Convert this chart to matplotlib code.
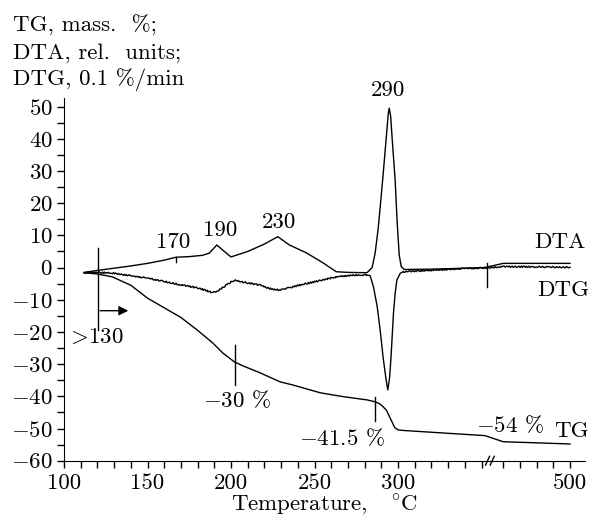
import numpy as np
import matplotlib
matplotlib.use("Agg")
import matplotlib.pyplot as plt
from matplotlib.ticker import FixedLocator, NullFormatter, FixedFormatter

plt.rcParams['font.family'] = 'cmr10'
plt.rcParams['mathtext.fontset'] = 'cm'
plt.rcParams['axes.formatter.use_mathtext'] = True
plt.rcParams['axes.unicode_minus'] = True

# ---------------- data ----------------
T_dta = [112, 120, 130, 140, 150, 160, 167, 175, 183, 187, 191.5, 196, 200, 210,
         220, 228, 235, 245, 255, 263, 270, 281.4, 284.5, 286.3, 288.1, 289.9,
         291.1, 292.9, 294.1, 294.7, 295.6, 296.5, 298.3, 299.5, 300.7, 301.9,
         303.7, 320, 340, 352, 460, 480, 500]
dta = [-1.5, -0.9, -0.2, 0.5, 1.3, 2.3, 3.2, 3.4, 3.8, 4.5, 7.0, 5.0, 3.3, 5.0,
       7.3, 9.6, 7.0, 4.6, 1.5, -1.3, -1.5, -1.6, 0.0, 4.5, 12, 22,
       29, 40, 47.5, 49.5, 47, 40, 27, 14, 4, 0.3,
       -0.6, -0.5, -0.2, 0.0, 1.3, 1.3, 1.3]

T_dtg = [112, 120, 129, 140, 150, 160, 170, 180, 189, 193, 197, 202, 210, 217,
         223, 229, 240, 250, 263, 275, 281, 283.3, 285.3, 287.5, 289.3, 291.1,
         292.9, 293.9, 295.0, 295.9, 297.3, 298.3, 299.3, 301.3, 303.1, 320, 340,
         352, 460, 480, 500]
dtg = [-1.6, -1.5, -1.7, -2.5, -3.3, -4.3, -5.4, -6.3, -7.8, -7.0, -5.5, -3.9, -4.8, -5.4,
       -6.5, -7.0, -5.6, -4.4, -2.9, -2.3, -2.3, -2.5, -6, -12, -19.4, -28,
       -35, -38, -34, -27, -14, -8, -3.9, -1.8, -1.3, -0.8, -0.3,
       -0.1, 0.3, 0.2, 0.1]

T_tg = [112, 120, 129, 140, 150, 160, 170, 180, 189, 195, 202, 207, 217.4, 229.4,
        237.2, 253.4, 267.2, 281.4, 286.3, 289, 291, 293, 296, 298, 300, 303,
        352, 460, 500]
tg = [-1.6, -2.0, -2.9, -5.5, -9.5, -12.5, -15.5, -19.5, -23.4, -26.5, -29.3, -30.5, -32.7, -35.5,
      -36.5, -38.9, -40.1, -41.1, -41.7, -42.3, -43.2, -44.3, -47.5, -49.7, -50.4, -50.6,
      -52.2, -54.1, -54.8]

x_major = [100, 150, 200, 250, 300, 500]
x_minor = [110, 120, 130, 140, 160, 170, 180, 190, 210, 220, 230, 240, 260, 270,
           280, 290, 310, 320, 330, 340, 350, 460, 470, 480, 490]
y_major = list(range(-60, 51, 10))
y_minor = list(range(-55, 51, 10))

peak_labels = ["170", "190", "230", "290"]
peak_pos = [(165.3, 7.9), (193.5, 11.6), (228.8, 14.1), (294.1, 55.1)]

# ---------------- broken x scale ----------------
BR0, BR1, EPS = 354.0, 452.0, 0.01
SHIFT = (BR1 - BR0) * (1 - EPS)
B = BR0 + (BR1 - BR0) * EPS

def fwd(x):
    x = np.asarray(x, float)
    return np.where(x <= BR0, x, np.where(x >= BR1, x - SHIFT, BR0 + (x - BR0) * EPS))

def inv(y):
    y = np.asarray(y, float)
    return np.where(y <= BR0, y, np.where(y >= B, y + SHIFT, BR0 + (y - BR0) / EPS))

fig = plt.figure(figsize=(5.91, 5.19), dpi=100)
ax = fig.add_axes([0.1083, 0.1123, 0.8816, 0.6997])
ax.set_xscale('function', functions=(fwd, inv))

FS = 16.5
lw = 1.0
ax.plot(T_dta, dta, color='black', lw=lw)

# DTG: noisy recording (sketch style) except the smooth main dip
i0 = T_dtg.index(281)
i1 = T_dtg.index(303.1)
for a, b, noisy in [(0, i0 + 1, True), (i0, i1 + 1, False), (i1, len(T_dtg), True)]:
    ln, = ax.plot(T_dtg[a:b], dtg[a:b], color='black', lw=lw)
    if noisy:
        ln.set_sketch_params(0.7, 3, 2)
ax.plot(T_tg, tg, color='black', lw=lw)

ax.set_xlim(100, 509)
ax.set_ylim(-60, 52.8)

for s in ['top', 'right']:
    ax.spines[s].set_visible(False)

ax.xaxis.set_major_locator(FixedLocator(x_major))
ax.xaxis.set_major_formatter(FixedFormatter([str(v) for v in x_major]))
ax.xaxis.set_minor_locator(FixedLocator(x_minor))
ax.xaxis.set_minor_formatter(NullFormatter())
ax.yaxis.set_major_locator(FixedLocator(y_major))
ax.yaxis.set_minor_locator(FixedLocator(y_minor))
ax.tick_params(which='both', direction='out', length=5, width=1.0, labelsize=FS)
ax.tick_params(axis='x', pad=4)
ax.tick_params(axis='y', pad=3)

ax.set_xlabel(r'Temperature,   $^{\circ}$C', fontsize=FS, labelpad=0)

# header text
fig.text(13 / 591, 1 - 25 / 519, 'TG, mass.  %;', fontsize=FS, va='center', ha='left')
fig.text(13 / 591, 1 - 53 / 519, 'DTA, rel.  units;', fontsize=FS, va='center', ha='left')
fig.text(13 / 591, 1 - 80 / 519, 'DTG, 0.1 %/min', fontsize=FS, va='center', ha='left')

for lab, (xx, yy) in zip(peak_labels, peak_pos):
    ax.text(xx, yy, lab, fontsize=FS, ha='center', va='center')

ax.text(494.2, 8.0, 'DTA', fontsize=FS, ha='center', va='center')
ax.text(496, -7.0, 'DTG', fontsize=FS, ha='center', va='center')
fig.text(589 / 591, 1 - 431.7 / 519, 'TG', fontsize=FS, ha='right', va='center')
ax.text(464.2, -48.9, r'$-$54 %', fontsize=FS, ha='center', va='center')
ax.text(266.4, -53.0, r'$-$41.5 %', fontsize=FS, ha='center', va='center')
ax.text(203.7, -41.1, r'$-$30 %', fontsize=FS, ha='center', va='center')
ax.text(118.5, -21.6, r'$>\!$130', fontsize=FS, ha='center', va='center')

# marker lines
mk = dict(color='black', lw=1.0)
ax.plot([120.4, 120.4], [6.1, -19.4], **mk)
ax.annotate('', xy=(138.5, -13.4), xytext=(121.6, -13.4),
            arrowprops=dict(arrowstyle='-|>', color='black', lw=1.0,
                            mutation_scale=14, shrinkA=0, shrinkB=0))
ax.plot([167, 167], [3.4, 1.6], **mk)
ax.plot([202.5, 202.5], [-24.0, -36.5], **mk)
ax.plot([286.3, 286.3], [-40.3, -47.6], **mk)
ax.plot([353, 353], [1.4, -6.1], **mk)

# axis break mark "//"
xt = ax.get_xaxis_transform()
for c in (353.6, 356.4):
    x0 = float(inv(c - 1.2)); x1 = float(inv(c + 1.2))
    ax.plot([x0, x1], [-0.012, 0.012], color='black', lw=1.0, transform=xt, clip_on=False)

fig.savefig('out.png', dpi=100)
